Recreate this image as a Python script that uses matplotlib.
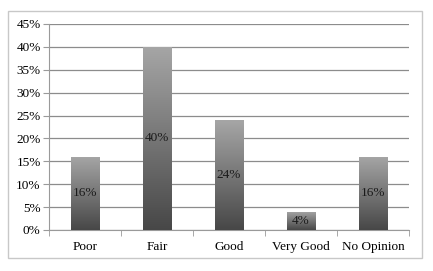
import numpy as np
import matplotlib.pyplot as plt
from matplotlib.patches import Rectangle
from matplotlib.colors import LinearSegmentedColormap

categories = ['Poor', 'Fair', 'Good', 'Very Good', 'No Opinion']
values = [16, 40, 24, 4, 16]
yticks = [0, 5, 10, 15, 20, 25, 30, 35, 40, 45]

plt.rcParams['font.family'] = ['Liberation Serif', 'DejaVu Serif']

fig = plt.figure(figsize=(4.33, 2.71), dpi=100)
ax = fig.add_axes([49 / 433, 1 - 230 / 271, 360 / 433, 206 / 271])

# light border around the whole chart
fig.patches.append(Rectangle((8 / 433, 1 - 258 / 271), 414 / 433, 247 / 271,
                             transform=fig.transFigure, fill=False,
                             edgecolor='#c8c8c8', linewidth=1))

x = np.arange(len(categories))
bars = ax.bar(x, values, width=0.4, color='none', edgecolor='none', zorder=3)

# vertical grey gradient inside every bar (light top, dark bottom)
cmap = LinearSegmentedColormap.from_list('g', ['#a6a6a6', '#474747'])
grad = np.linspace(0, 1, 256).reshape(-1, 1)
for b in bars:
    x0, y0 = b.get_x(), b.get_y()
    w, h = b.get_width(), b.get_height()
    im = ax.imshow(grad, cmap=cmap, aspect='auto', origin='upper',
                   extent=(x0, x0 + w, y0, y0 + h), zorder=3)
    im.set_clip_path(b)
    ax.text(x0 + w / 2, h / 2, f'{int(h)}%', ha='center', va='center',
            fontsize=9.5, color='#1a1a1a', zorder=4)

ax.set_xlim(-0.5, len(categories) - 0.5)
ax.set_ylim(0, 45)
ax.set_yticks(yticks)
ax.set_yticklabels([f'{v}%' for v in yticks], fontsize=9.5)
ax.set_xticks(x)
ax.set_xticklabels(categories, fontsize=9.5)
ax.set_xticks(np.arange(-0.5, len(categories)), minor=True)

ax.grid(axis='y', color='#8c8c8c', linewidth=0.9, zorder=0)
ax.set_axisbelow(True)
for s in ['top', 'right']:
    ax.spines[s].set_visible(False)
ax.spines['left'].set_color('#9a9a9a')
ax.spines['bottom'].set_color('#9a9a9a')
ax.tick_params(axis='y', length=4, color='#9a9a9a', pad=2)
ax.tick_params(axis='x', which='major', length=0, pad=8)
ax.tick_params(axis='x', which='minor', length=4, color='#9a9a9a')

fig.savefig('out.png', dpi=100)
